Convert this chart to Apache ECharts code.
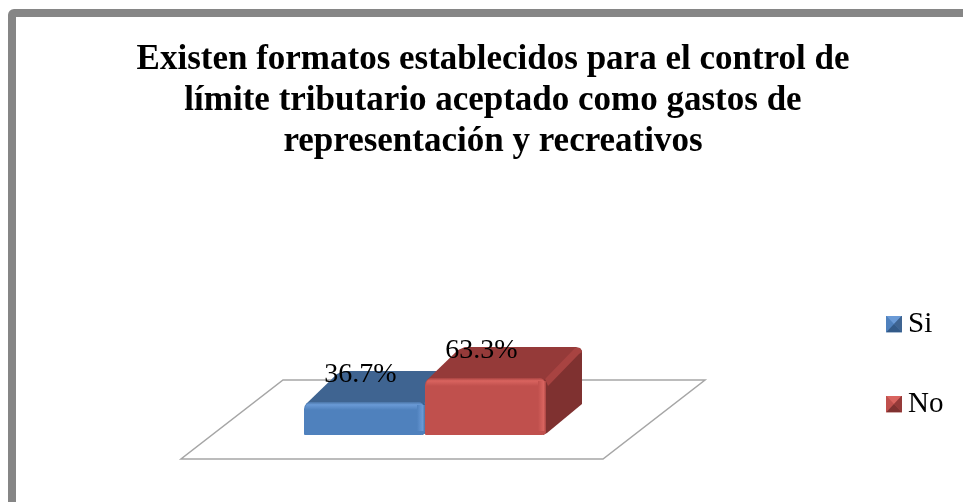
<!DOCTYPE html>
<html><head><meta charset="utf-8">
<style>html,body{margin:0;padding:0;background:#fff}#c{width:963px;height:502px}</style>
<script src="https://cdn.jsdelivr.net/npm/echarts@6/dist/echarts.min.js"></script>
</head><body><div id="c"></div>
<script>
const titleLines = ['Existen formatos establecidos para el control de','límite tributario aceptado como gastos de','representación y recreativos'];
const categories = ['Si','No'];
const values = [36.7, 63.3];
const axisCategory = [''];
const palette = [
 {front:'#4f81bd',light:'#6a9ad6',top:'#3f6491',side:'#335a88',edge:'#4a74a6'},
 {front:'#c0504d',light:'#d9645f',top:'#953a39',side:'#7f3130',edge:'#a84341'}
];
const FONT = '"Liberation Serif","Times New Roman",serif';
const BAR_RATIO = 121/422, DX = 36, DY = 31;

function bevelIcon(c){
  const svg = `<svg xmlns="http://www.w3.org/2000/svg" width="16" height="17"><rect width="16" height="17" fill="${c.front}"/><polygon points="0,0 16,0 8,8.5" fill="${c.light}"/><polygon points="16,0 16,17 8,8.5" fill="${c.top}"/><polygon points="0,17 16,17 8,8.5" fill="${c.side}"/></svg>`;
  return 'image://data:image/svg+xml;charset=utf-8,' + encodeURIComponent(svg);
}

function renderFloor(params, api){
  const cs = params.coordSys, base = api.coord([0,0])[1];
  const l = cs.x - 33, r = cs.x + cs.width - 33;
  const front = base + 24, back = base - 55, shift = 102;
  return {type:'polygon', silent:true, shape:{points:[[l,front],[r,front],[r+shift,back],[l+shift,back]]},
    style:{fill:'#ffffff',stroke:'#a6a6a6',lineWidth:1.5}};
}

function renderBar(idx){
  return function(params, api){
    const c = palette[idx];
    const center = api.coord([0,0])[0];
    const w = api.size([1,0])[0]*BAR_RATIO;
    const x0 = center + (idx-1)*w, x1 = x0 + w;
    const base = api.coord([0,0])[1], top = api.coord([0,api.value(1)])[1];
    const h = base - top;
    const bx = x1 + DX, by = top - DY;
    return {type:'group', children:[
      {type:'polygon', shape:{points:[[x0+2,top+2],[x0+DX-3,by+3],[x0+DX+4,by],[bx-6,by],[bx-2,by+1],[bx,by+4],[bx,by+7],[x1,top+6]]}, style:{fill:c.top}},
      {type:'polygon', shape:{points:[[x1-2,top+2],[bx-1,by+2],[bx,by+6],[bx,base-DY],[x1+1,base-2],[x1-3,base]]}, style:{fill:c.side}},
      {type:'polygon', shape:{points:[[x1-1,top+1],[bx-7,by+1],[bx-2,by+1],[bx,by+5],[bx-3,by+7],[x1+2,top+8]]}, style:{fill:c.edge}},
      {type:'rect', shape:{x:x0,y:top,width:w,height:h,r:[7,7,4,1]}, style:{fill:c.front}},
      {type:'rect', shape:{x:x0+1,y:top,width:w-2,height:8,r:[7,7,0,0]}, style:{fill:{type:'linear',x:0,y:0,x2:0,y2:1,colorStops:[{offset:0,color:c.edge},{offset:0.35,color:c.light},{offset:1,color:c.front}]}}},
      {type:'rect', shape:{x:x1-8,y:top+3,width:8,height:h-7}, style:{fill:{type:'linear',x:0,y:0,x2:1,y2:0,colorStops:[{offset:0,color:c.front},{offset:0.7,color:c.light},{offset:1,color:c.edge}]}}},
      {type:'text', z2:50, style:{text:api.value(1).toFixed(1)+'%',x:x0+w/2-4,y:top-27,align:'center',verticalAlign:'middle',font:'28px '+FONT,fill:'#000'}}
    ]};
  };
}

const chart = echarts.init(document.getElementById('c'),null,{renderer:'canvas'});
chart.setOption({
  animation:false,
  backgroundColor:'#ffffff',
  graphic:[{type:'rect',z:-10,silent:true,shape:{x:12,y:13,width:1000,height:600,r:2},style:{fill:'#fff',stroke:'#868686',lineWidth:8}}],
  title:{text:titleLines.join('\n'),left:488,top:34,textAlign:'center',
    textStyle:{fontFamily:FONT,fontWeight:'bold',fontSize:35,lineHeight:41,color:'#000'}},
  legend:{orient:'vertical',left:881,top:303,itemWidth:16,itemHeight:17,itemGap:48,selectedMode:false,
    textStyle:{fontFamily:FONT,fontSize:29,lineHeight:32,color:'#000',padding:[0,0,0,1]},
    data:categories.map((n,i)=>({name:n,icon:bevelIcon(palette[i])}))},
  grid:{left:214,width:422,top:345,height:90},
  xAxis:{type:'category',data:axisCategory,show:false},
  yAxis:{type:'value',min:0,max:100,show:false},
  series:[
    {type:'custom',name:'floor',renderItem:renderFloor,data:[[0,0]],z:1,silent:true},
    ...categories.map((n,i)=>({type:'custom',name:n,renderItem:renderBar(i),data:[[0,values[i]]],z:2+i,
      itemStyle:{color:palette[i].front},encode:{x:0,y:1}}))
  ]
});
</script></body></html>
